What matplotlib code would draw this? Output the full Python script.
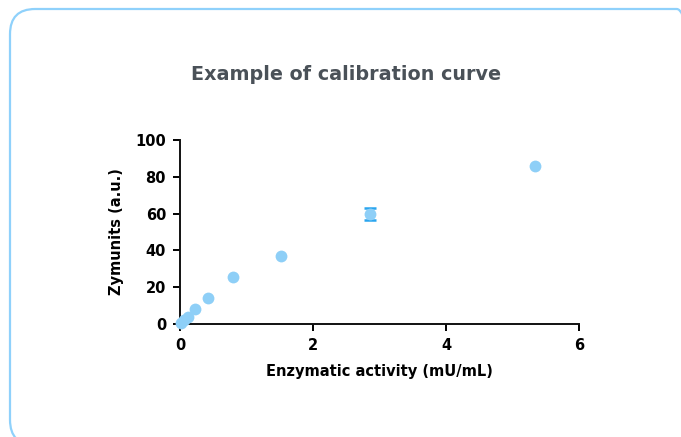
import numpy as np
import matplotlib.pyplot as plt
from matplotlib.patches import FancyBboxPatch

# calibration points
activity = [0.02, 0.06, 0.12, 0.23, 0.42, 0.80, 1.52, 2.86, 5.34]
zymunits = [0.5, 2.0, 4.0, 8.0, 14.0, 25.5, 37.0, 60.0, 86.0]
zym_err = [0, 0, 0, 0, 0, 0, 0, 3.3, 0]

x_ticks = [0, 2, 4, 6]
y_ticks = [0, 20, 40, 60, 80, 100]

POINT = "#8ecff7"
ERR = "#2aa5ef"
FRAME = "#8fd1fb"
TITLE = "#4a5158"

plt.rcParams["font.family"] = ["DejaVu Sans"]

fig = plt.figure(figsize=(6.81, 4.37), dpi=100)

# rounded card behind the chart, clipped at right and bottom
card = FancyBboxPatch(
    (10 / 681, -8 / 437), 692 / 681, 436 / 437,
    boxstyle="round,pad=0,rounding_size=0.037",
    transform=fig.transFigure, facecolor="none", edgecolor=FRAME,
    linewidth=1.6, mutation_aspect=681 / 437, zorder=-5,
)
fig.patches.append(card)

fig.text(0.508, 1 - 75 / 437, "Example of calibration curve",
         ha="center", va="center", fontsize=13.8, fontweight="bold", color=TITLE)

ax = fig.add_axes([180 / 681, 1 - 324 / 437, 399 / 681, 184 / 437])
ax.patch.set_alpha(0)

# error bars only where a spread was shown
act = np.array(activity)
zym = np.array(zymunits)
err = np.array(zym_err)
has_err = err > 0
ax.errorbar(act[has_err], zym[has_err], yerr=err[has_err], fmt="none", ecolor=ERR,
            elinewidth=1.5, capsize=4.5, capthick=1.8, zorder=2)
ax.plot(act, zym, "o", color=POINT, markersize=8.5,
        markeredgewidth=0, zorder=3)

ax.set_xlim(0, 6)
ax.set_ylim(0, 100)
ax.set_xticks(x_ticks)
ax.set_yticks(y_ticks)
ax.spines["top"].set_visible(False)
ax.spines["right"].set_visible(False)
for s in ("left", "bottom"):
    ax.spines[s].set_linewidth(1.4)
    ax.spines[s].set_color("#111111")
ax.tick_params(direction="out", length=5, width=1.4, labelsize=10.5, pad=5)
for lab in ax.get_xticklabels() + ax.get_yticklabels():
    lab.set_fontweight("bold")
ax.set_xlabel("Enzymatic activity (mU/mL)", fontsize=10.5, fontweight="bold", labelpad=8)
ax.set_ylabel("Zymunits (a.u.)", fontsize=10.5, fontweight="bold", labelpad=8)
for c in ax.get_children():
    try:
        c.set_clip_on(False)
    except Exception:
        pass

fig.savefig("out.png", dpi=100)
